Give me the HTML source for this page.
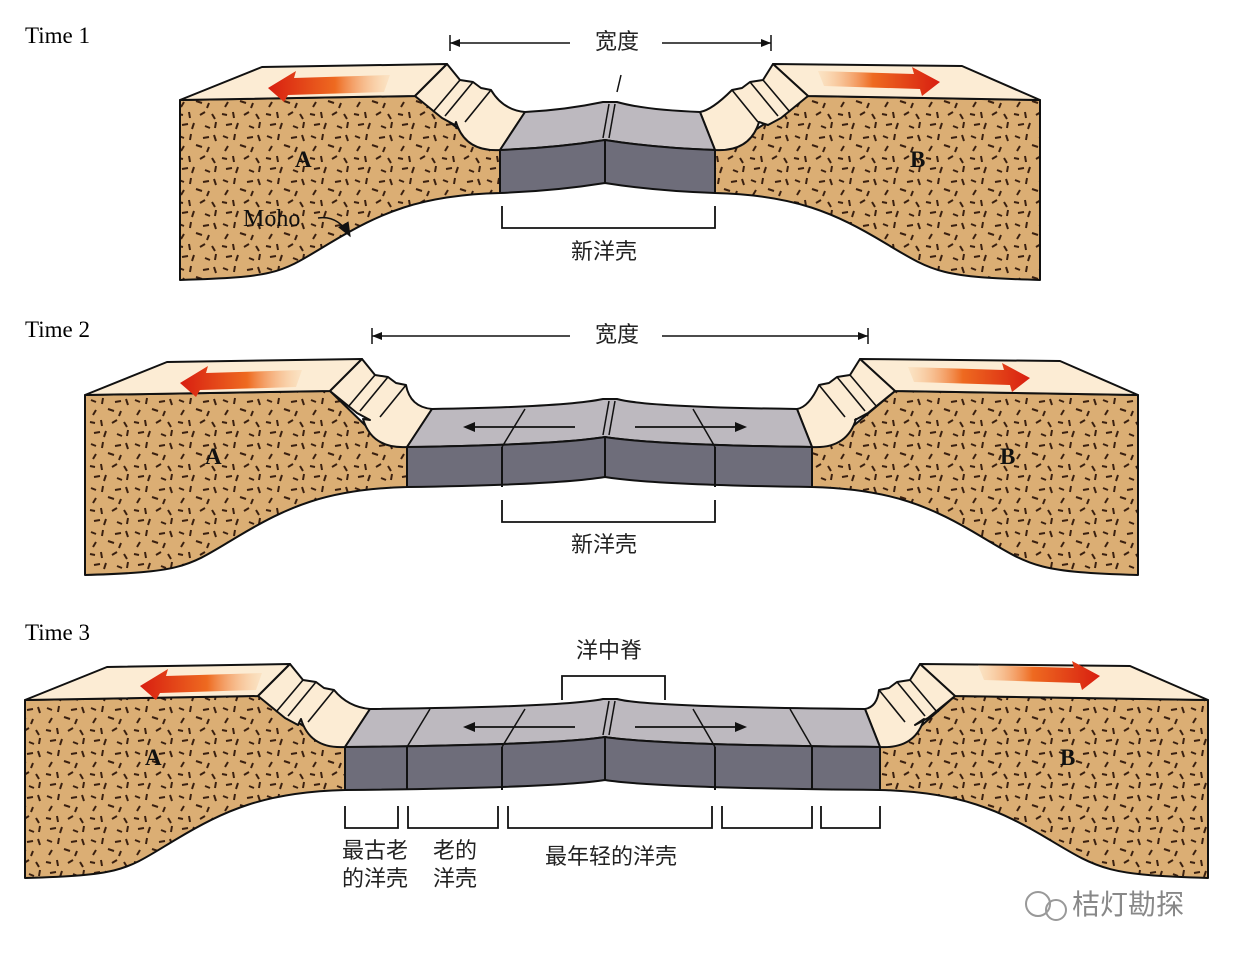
<!DOCTYPE html>
<html><head><meta charset="utf-8"><style>
html,body{margin:0;padding:0;background:#fff;}
svg{display:block;}
text{font-family:"Liberation Serif",serif;}
.cj{font-family:"Liberation Sans","Noto Sans CJK SC",sans-serif;font-size:22px;fill:#222;}
.lb{font-size:23px;font-weight:bold;fill:#111;}
</style></head><body>
<svg id="s" width="1235" height="960" viewBox="0 0 1235 960" xmlns="http://www.w3.org/2000/svg">
<defs>
<pattern id="d" width="44" height="44" patternUnits="userSpaceOnUse">
<rect width="44" height="44" fill="#dbae74"/>
<g stroke="#3a2010" stroke-width="2">
<path d="M3 4l5 2M15 2l-1 6M27 6l6-1M38 3l2 6M8 14l-3 5M20 13l6 2M33 15l-2 5M2 26l5 1M13 24l1 6M24 27l5-3M36 26l3 5M6 37l6-1M18 35l-2 6M29 38l5 2M40 34l-1 6"/>
</g></pattern>
<linearGradient id="gl" x1="0" x2="1"><stop offset="0" stop-color="#d81e10"/><stop offset="0.55" stop-color="#ee6a20"/><stop offset="1" stop-color="#f9d0a0" stop-opacity="0.3"/></linearGradient>
<linearGradient id="gr" x1="1" x2="0"><stop offset="0" stop-color="#d81e10"/><stop offset="0.55" stop-color="#ee6a20"/><stop offset="1" stop-color="#f9d0a0" stop-opacity="0.3"/></linearGradient>
<marker id="ah" markerWidth="10" markerHeight="8" refX="9" refY="4" orient="auto"><path d="M0,0 L10,4 L0,8 Z" fill="#111"/></marker>
</defs>
<g id="g"></g>
<text x="25" y="43" font-size="23">Time 1</text>
<text x="25" y="337" font-size="23">Time 2</text>
<text x="25" y="640" font-size="23">Time 3</text>
<text class="lb" x="295" y="167">A</text>
<text class="lb" x="910" y="167">B</text>
<text class="lb" x="205" y="464">A</text>
<text class="lb" x="1000" y="464">B</text>
<text class="lb" x="145" y="765">A</text>
<text class="lb" x="1060" y="765">B</text>
<text x="243" y="226" font-size="24" fill="#111">Moho</text>
<path d="M318,218 Q338,215 350,236" fill="none" stroke="#111" stroke-width="1.5" marker-end="url(#ah)"/>
<text class="cj" x="595" y="49">宽度</text>
<text class="cj" x="595" y="342">宽度</text>
<text class="cj" x="571" y="259">新洋壳</text>
<text class="cj" x="571" y="552">新洋壳</text>
<text class="cj" x="576" y="658">洋中脊</text>
<text class="cj" x="342" y="858">最古老</text>
<text class="cj" x="342" y="886">的洋壳</text>
<text class="cj" x="433" y="858">老的</text>
<text class="cj" x="433" y="886">洋壳</text>
<text class="cj" x="545" y="864">最年轻的洋壳</text>
<text x="1072" y="914" font-family="Liberation Sans,Noto Sans CJK SC,sans-serif" font-size="28" fill="#888">桔灯勘探</text>
<g fill="none" stroke="#999" stroke-width="2"><circle cx="1038" cy="904" r="12"/><circle cx="1056" cy="910" r="10"/></g>
</svg>
<script>
var o='';
function P(d,f,sw){o+='<path d="'+d+'" fill="'+(f||'none')+'" stroke="#111" stroke-width="'+(sw||2)+'" stroke-linejoin="round"/>';}
function L(a,b,c,d,w){o+='<line x1="'+a+'" y1="'+b+'" x2="'+c+'" y2="'+d+'" stroke="#111" stroke-width="'+(w||1.6)+'"/>';}
function panel(c){
 var ty=c.ty,oy=c.oy,ob=c.ob,by=c.by;
 var xl=c.xl,xs=c.xs,xo=c.xo;
 P('M'+xl+','+ty+' L'+xs+','+(ty-4)+' L'+(xo-40)+','+(oy-20)+' L'+xo+','+oy+' L'+xo+','+ob+' C'+(xo-80)+','+(ob+2)+' '+(xo-120)+','+(ob+20)+' '+(xo-170)+','+(ob+50)+' S'+(xl+100)+','+(by-3)+' '+xl+','+by+' Z','url(#d)');
 P('M'+xl+','+ty+' L'+(xl+82)+','+(ty-33)+' L'+(xs+32)+','+(ty-36)+' L'+xs+','+(ty-4)+' Z','#fcecd4');
 P('M'+xs+','+(ty-4)+' L'+(xs+32)+','+(ty-36)+' L'+(xs+45)+','+(ty-20)+' L'+(xs+58)+','+(ty-18)+' L'+(xs+66)+','+(ty-12)+' L'+(xs+76)+','+(ty-10)+' Q'+(xo+3)+','+(oy-40)+' '+(xo+25)+','+(oy-38)+' L'+xo+','+oy+' Q'+(xo-35)+','+(oy+2)+' '+(xo-44)+','+(oy-28)+' L'+(xs+40)+','+(ty+25)+' L'+(xs+27)+','+(ty+18)+' Z','#fcecd4');
 L(xs+45,ty-20,xs+18,ty+12);L(xs+58,ty-18,xs+30,ty+16);L(xs+76,ty-10,xs+50,ty+22);
 var xr=c.xr,ys=c.ys,yo=c.yo;
 P('M'+xr+','+ty+' L'+ys+','+(ty-4)+' L'+(yo+40)+','+(oy-20)+' L'+yo+','+oy+' L'+yo+','+ob+' C'+(yo+80)+','+(ob+2)+' '+(yo+120)+','+(ob+20)+' '+(yo+170)+','+(ob+50)+' S'+(xr-100)+','+(by-3)+' '+xr+','+by+' Z','url(#d)');
 P('M'+xr+','+ty+' L'+(xr-78)+','+(ty-34)+' L'+(ys-35)+','+(ty-36)+' L'+ys+','+(ty-4)+' Z','#fcecd4');
 P('M'+ys+','+(ty-4)+' L'+(ys-35)+','+(ty-36)+' L'+(ys-45)+','+(ty-20)+' L'+(ys-58)+','+(ty-18)+' L'+(ys-66)+','+(ty-12)+' L'+(ys-76)+','+(ty-10)+' Q'+(yo-3)+','+(oy-40)+' '+(yo-15)+','+(oy-38)+' L'+yo+','+oy+' Q'+(yo+35)+','+(oy+2)+' '+(yo+44)+','+(oy-28)+' L'+(ys-40)+','+(ty+25)+' L'+(ys-27)+','+(ty+18)+' Z','#fcecd4');
 L(ys-45,ty-20,ys-18,ty+12);L(ys-58,ty-18,ys-30,ty+16);L(ys-76,ty-10,ys-50,ty+22);
 var m=605;
 P('M'+xo+','+oy+' L'+(xo+25)+','+(oy-38)+' Q'+(m-40)+','+(oy-40)+' '+(m-2)+','+(oy-48)+' L'+(m+12)+','+(oy-48)+' Q'+(m+40)+','+(oy-40)+' '+(yo-15)+','+(oy-38)+' L'+yo+','+oy+' Q'+(m+50)+','+(oy-2)+' '+m+','+(oy-10)+' Q'+(m-50)+','+(oy-2)+' '+xo+','+oy+' Z','#bdb9bf');
 P('M'+xo+','+oy+' Q'+(m-50)+','+(oy-2)+' '+m+','+(oy-10)+' Q'+(m+50)+','+(oy-2)+' '+yo+','+oy+' L'+yo+','+ob+' Q'+(m+50)+','+(ob-2)+' '+m+','+(ob-10)+' Q'+(m-50)+','+(ob-2)+' '+xo+','+ob+' Z','#6e6d7a');
 L(m,oy-10,m,ob-10,2);L(m-2,oy-12,m+4,oy-46,1.5);L(m+4,oy-12,m+10,oy-46,1.5);
 (c.segs||[]).forEach(function(x){var dx=x<m?23:-22;L(x,oy,x,ob,2);L(x,oy,x+dx,oy-38,1.5);});
 if(c.arr){L(m-30,oy-20,c.arr[0],oy-20,1.8);o+='<path d="M'+c.arr[0]+','+(oy-25)+' l-12,5 l12,5 Z" fill="#111"/>';
  L(m+30,oy-20,c.arr[1],oy-20,1.8);o+='<path d="M'+c.arr[1]+','+(oy-25)+' l12,5 l-12,5 Z" fill="#111"/>';}
 var a=c.la;o+='<path d="M'+a[0]+','+a[1]+' l28,-17 l-2,7 l96,-3 l-6,17 l-96,3 l-4,7 Z" fill="url(#gl)"/>';
 var b=c.ra;o+='<path d="M'+b[0]+','+b[1]+' l-28,-15 l2,7 l-96,-3 l6,15 l96,3 l2,7 Z" fill="url(#gr)"/>';
}
panel({xl:180,xs:415,xo:500,ty:100,oy:150,ob:193,by:280,xr:1040,ys:808,yo:715,la:[268,88],ra:[940,82]});
panel({xl:85,xs:330,xo:407,ty:395,oy:447,ob:487,by:575,xr:1138,ys:895,yo:812,segs:[502,715],arr:[475,735],la:[180,383],ra:[1030,378]});
panel({xl:25,xs:258,xo:345,ty:700,oy:747,ob:790,by:878,xr:1208,ys:955,yo:880,segs:[407,502,715,812],arr:[475,735],la:[140,686],ra:[1100,676]});
function dim(x1,x2,y,tx1,tx2){L(x1,y-8,x1,y+8,1.5);L(x2,y-8,x2,y+8,1.5);L(x1,y,tx1,y,1.5);L(tx2,y,x2,y,1.5);
 o+='<path d="M'+x1+','+y+' l10,-4 v8 Z M'+x2+','+y+' l-10,-4 v8 Z" fill="#111"/>';}
dim(450,771,43,570,662);dim(372,868,336,570,662);
function br(x1,x2,y){o+='<path d="M'+x1+','+(y-22)+' V'+y+' H'+x2+' V'+(y-22)+'" fill="none" stroke="#111" stroke-width="1.8"/>';}
br(502,715,228);br(502,715,522);br(345,398,828);br(408,498,828);br(508,712,828);br(722,812,828);br(821,880,828);
o+='<path d="M562,700 V676 H665 V700" fill="none" stroke="#111" stroke-width="1.8"/>';
L(617,92,621,75,1.5);
document.getElementById('g').innerHTML=o;
</script>
</body></html>
